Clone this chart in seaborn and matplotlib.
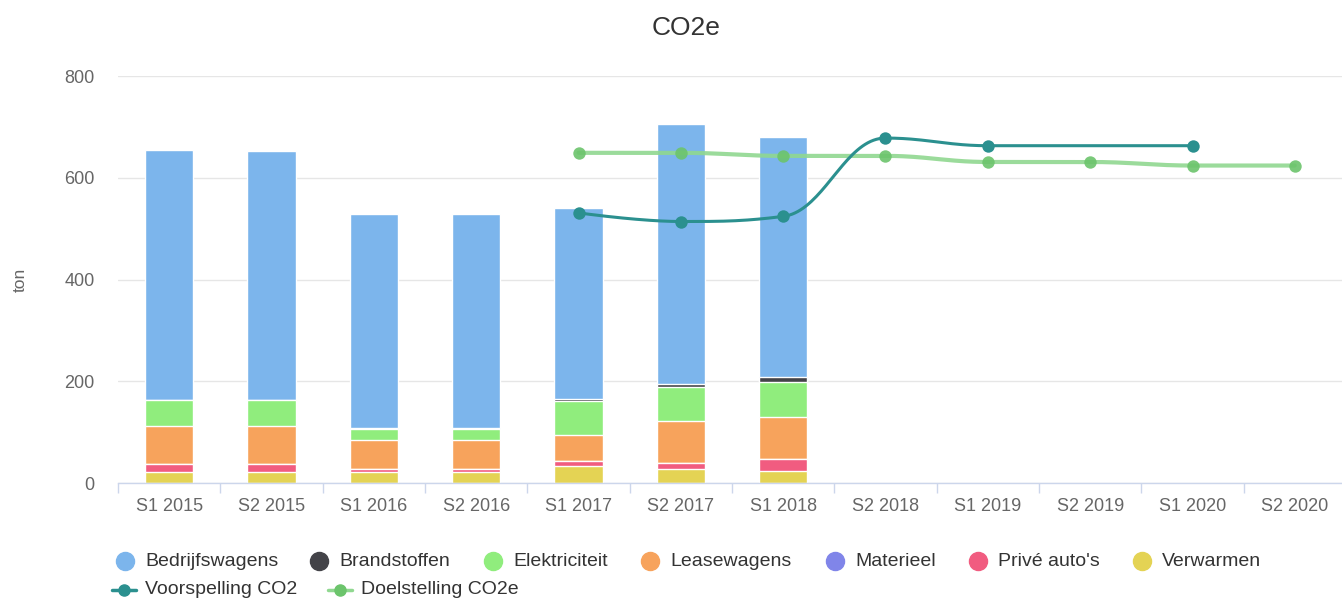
import numpy as np
import pandas as pd
import matplotlib
matplotlib.use("Agg")
import matplotlib.pyplot as plt
from matplotlib.lines import Line2D
import seaborn as sns

# %%
periods = ["S1 2015", "S2 2015", "S1 2016", "S2 2016", "S1 2017", "S2 2017",
           "S1 2018", "S2 2018", "S1 2019", "S2 2019", "S1 2020", "S2 2020"]
bar_periods = periods[:7]

# stacked components (ton), top of stack first
bedrijfswagens = [490, 488, 420, 420, 374, 511, 472]
brandstoffen = [1, 1, 1, 1, 5, 6, 10]
elektriciteit = [50, 50, 23, 23, 66, 66, 69]
leasewagens = [76, 76, 57, 57, 51, 82, 82]
materieel = [0, 0, 0, 0, 0, 0, 0]
prive_autos = [16, 16, 6, 6, 10, 12, 23]
verwarmen = [21, 21, 21, 21, 34, 28, 24]

voorspelling = [np.nan, np.nan, np.nan, np.nan, 531, 514, 524, 678, 663, np.nan, 663, np.nan]
doelstelling = [np.nan, np.nan, np.nan, np.nan, 649, 649, 643, 643, 631, 631, 624, 624]

series_names = ["Bedrijfswagens", "Brandstoffen", "Elektriciteit", "Leasewagens",
                "Materieel", "Privé auto's", "Verwarmen"]
series_values = [bedrijfswagens, brandstoffen, elektriciteit, leasewagens,
                 materieel, prive_autos, verwarmen]
series_colors = ["#7cb5ec", "#434348", "#90ed7d", "#f7a35c", "#8085e9", "#f15c80", "#e4d354"]

teal = "#2b908f"
green_line = "#90d890"
green_marker = "#6cc46c"


def spline(xs, ys, smoothing=1.5, n=40):
    # Highcharts-style spline through the points
    pts = [(x, y) for x, y in zip(xs, ys) if not np.isnan(y)]
    denom = smoothing + 1
    ctrl = []
    for i, (px, py) in enumerate(pts):
        if 0 < i < len(pts) - 1:
            lx, ly = pts[i - 1]
            nx, ny = pts[i + 1]
            lcx = (smoothing * px + lx) / denom
            lcy = (smoothing * py + ly) / denom
            rcx = (smoothing * px + nx) / denom
            rcy = (smoothing * py + ny) / denom
            corr = (rcy - lcy) * (rcx - px) / (rcx - lcx) + py - rcy
            lcy += corr
            rcy += corr
            if lcy > ly and lcy > py:
                lcy = max(ly, py); rcy = 2 * py - lcy
            elif lcy < ly and lcy < py:
                lcy = min(ly, py); rcy = 2 * py - lcy
            if rcy > ny and rcy > py:
                rcy = max(ny, py); lcy = 2 * py - rcy
            elif rcy < ny and rcy < py:
                rcy = min(ny, py); lcy = 2 * py - rcy
            ctrl.append(((lcx, lcy), (rcx, rcy)))
        else:
            ctrl.append(((px, py), (px, py)))
    outx, outy = [], []
    t = np.linspace(0, 1, n)
    for i in range(1, len(pts)):
        p0 = np.array(pts[i - 1]); p3 = np.array(pts[i])
        p1 = np.array(ctrl[i - 1][1]); p2 = np.array(ctrl[i][0])
        seg = ((1 - t)[:, None] ** 3 * p0 + 3 * ((1 - t) ** 2 * t)[:, None] * p1
               + 3 * ((1 - t) * t ** 2)[:, None] * p2 + (t ** 3)[:, None] * p3)
        outx.extend(seg[:, 0]); outy.extend(seg[:, 1])
    return np.array(outx), np.array(outy)


# %%
sns.set_style("white")
plt.rcParams['font.family'] = ['Liberation Sans', 'DejaVu Sans']

W, H = 1342, 601
fig = plt.figure(figsize=(W / 100, H / 100), dpi=100)
ax = fig.add_axes([118 / W, 118 / H, (1346 - 118) / W, 407 / H])

# stacked bars: draw cumulative totals, tallest first
cum = np.cumsum(np.array(series_values[::-1]), axis=0)[::-1]
for name, tops, color in zip(series_names, cum, series_colors):
    df = pd.DataFrame({"period": bar_periods, "value": tops})
    sns.barplot(data=df, x="period", y="value", order=periods, color=color, saturation=1,
                width=0.47, edgecolor="white", linewidth=1, ax=ax, zorder=2)

x_idx = np.arange(len(periods))

sx, sy = spline(x_idx, doelstelling)
ax.plot(sx, sy, color=green_line, lw=3, alpha=0.9, zorder=3, solid_capstyle="round")
ax.scatter(x_idx, doelstelling, s=80, color=green_marker, alpha=0.9, zorder=4, linewidths=0)

sx, sy = spline(x_idx, voorspelling)
ax.plot(sx, sy, color=teal, lw=2.2, zorder=5, solid_capstyle="round")
ax.scatter(x_idx, voorspelling, s=80, color=teal, zorder=6, linewidths=0)

ax.set_xlim(-0.5, len(periods) - 0.5)
ax.set_ylim(0, 800)
ax.set_yticks([0, 200, 400, 600, 800])
ax.set_xticks(x_idx)
ax.set_xticklabels(periods)
ax.set_xticks(np.arange(-0.5, len(periods), 1), minor=True)
ax.set_xlabel("")
ax.set_ylabel("")

ax.grid(axis="y", color="#e6e6e6", lw=1, zorder=0)
ax.set_axisbelow(True)
for side in ["top", "right", "left"]:
    ax.spines[side].set_visible(False)
ax.spines["bottom"].set_color("#ccd6eb")
ax.spines["bottom"].set_linewidth(1)

ax.tick_params(axis="x", which="major", bottom=False, length=0, pad=11, labelsize=13,
               labelcolor="#666666")
ax.tick_params(axis="x", which="minor", bottom=True, length=7.5, width=1, color="#ccd6eb",
               direction="out")
ax.tick_params(axis="y", length=0, pad=17, labelsize=13, labelcolor="#666666")

fig.text(686 / W, 1 - 28 / H, "CO2e", ha="center", va="center", fontsize=19, color="#333333")
fig.text(20 / W, 1 - 280 / H, "ton", ha="center", va="center", rotation=90,
         fontsize=12.5, color="#666666")

# legend, laid out like the original
row1 = 1 - 561 / H
row2 = 1 - 590 / H
marker_x = [125, 319, 493, 650, 835, 978, 1142]
for name, color, mx in zip(series_names, series_colors, marker_x):
    fig.add_artist(Line2D([mx / W], [row1], marker="o", markersize=13, color=color,
                          lw=0, transform=fig.transFigure))
    fig.text((mx + 20) / W, row1, name, ha="left", va="center", fontsize=14, color="#333333")

for name, lc, mc, mx in [("Voorspelling CO2", teal, teal, 124),
                         ("Doelstelling CO2e", green_line, green_marker, 340)]:
    fig.add_artist(Line2D([(mx - 12) / W, (mx + 12) / W], [row2, row2], color=lc, lw=2.5,
                          transform=fig.transFigure))
    fig.add_artist(Line2D([mx / W], [row2], marker="o", markersize=8, color=mc,
                          lw=0, transform=fig.transFigure))
    fig.text((mx + 21) / W, row2, name, ha="left", va="center", fontsize=14, color="#333333")

fig.savefig("out.png", dpi=100)
